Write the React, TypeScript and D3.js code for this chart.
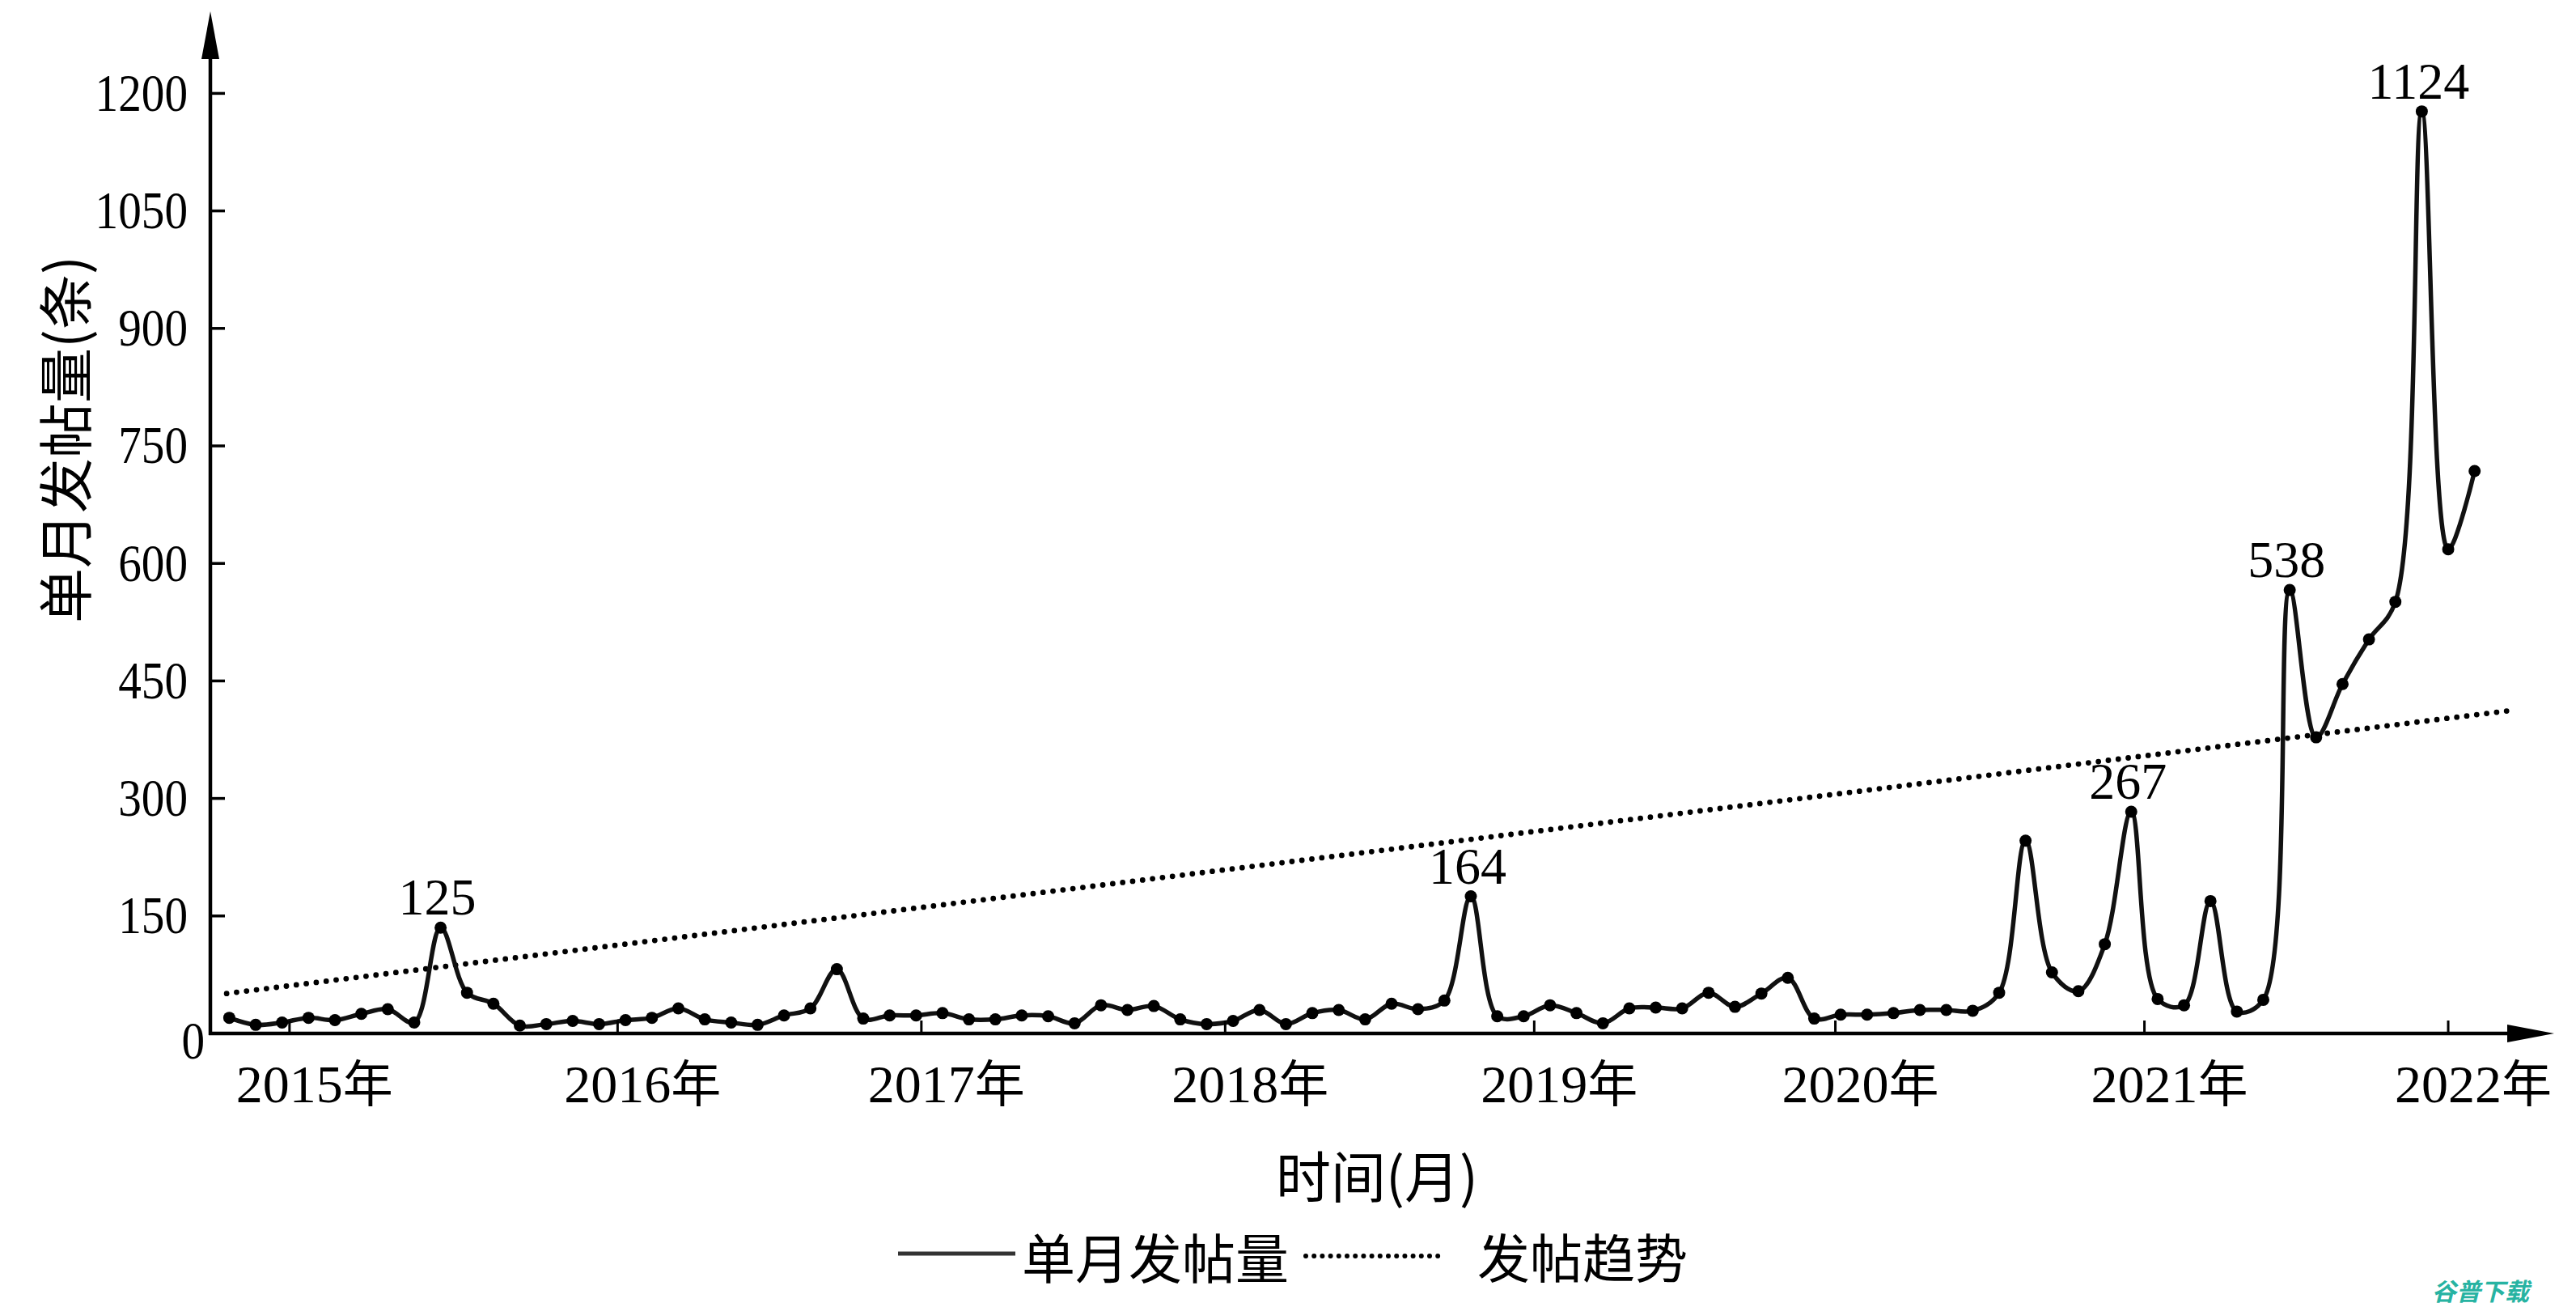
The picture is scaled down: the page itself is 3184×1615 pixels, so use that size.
import React from 'react';
import * as d3 from 'd3';

const W = 3184;
const H = 1615;

// monthly post counts (read against the y axis)
const monthlyPosts: number[] = [
  20, 11, 14, 20, 17, 25, 31, 14, 135, 52,
  38, 10, 12, 16, 12, 17, 20, 32, 18, 14,
  11, 23, 32, 82, 19, 23, 23, 26, 18, 18,
  23, 22, 13, 36, 30, 35, 18, 12, 16, 30,
  12, 26, 30, 18, 38, 31, 42, 175, 22, 22,
  36, 26, 13, 32, 33, 32, 52, 34, 51, 71,
  19, 24, 24, 26, 30, 30, 29, 52, 246, 78,
  54, 114, 283, 44, 36, 169, 28, 43, 566, 378,
  446, 503, 551, 1177, 618, 718,
];

const peakIndex: number[] = [8, 47, 72, 78, 83];
const peakLabels: string[] = ['125', '164', '267', '538', '1124'];

const yearLabels: string[] = ['2015', '2016', '2017', '2018', '2019', '2020', '2021', '2022'];
const yearTickAt: number[] = [2.28, 14.7, 26.2, 37.7, 49.4, 60.8, 72.5, 84.0];

const yTicks: number[] = [0, 150, 300, 450, 600, 750, 900, 1050, 1200];

const trendIdx: number[] = [-0.1, 86.3];
const trendVal: number[] = [51, 412];

const SERIF = "'Liberation Serif', 'Times New Roman', 'Noto Sans CJK SC', serif";
const CJK = "'Noto Sans CJK SC', 'Noto Sans CJK JP', sans-serif";

export default function App() {
  const x = d3.scaleLinear().domain([0, monthlyPosts.length - 1]).range([283.4, 3058.7]);
  const y = d3.scaleLinear().domain([0, 1200]).range([1277, 115.4]);

  const line = d3
    .line<number>()
    .x((_, i) => x(i))
    .y((d) => y(d))
    .curve(d3.curveCatmullRom.alpha(0.5));

  const trendLine = d3
    .line<number>()
    .x((_, i) => x(trendIdx[i]))
    .y((d) => y(d));

  const axisX = 260;
  const axisY = y(0);

  return (
    <svg
      width={W}
      height={H}
      viewBox={`0 0 ${W} ${H}`}
      style={{ position: 'absolute', left: 0, top: 0, background: '#fff', display: 'block' }}
    >
      <rect x={0} y={0} width={W} height={H} fill="#fff" />

      {/* trend (dotted) */}
      <path
        d={trendLine(trendVal) || ''}
        fill="none"
        stroke="#000"
        strokeWidth={6.8}
        strokeLinecap="round"
        strokeDasharray="0 12.4"
      />

      {/* monthly series */}
      <path d={line(monthlyPosts) || ''} fill="none" stroke="#111" strokeWidth={5.5} />
      {monthlyPosts.map((v, i) => (
        <circle key={i} cx={x(i)} cy={y(v)} r={7.5} fill="#000" />
      ))}

      {/* peak labels */}
      {peakIndex.map((pi, k) => (
        <text
          key={k}
          x={x(pi) - 4}
          y={y(monthlyPosts[pi]) - 16}
          textAnchor="middle"
          fontFamily={SERIF}
          fontSize={64}
          fill="#000"
        >
          {peakLabels[k]}
        </text>
      ))}

      {/* axes */}
      <line x1={axisX} y1={axisY + 2} x2={axisX} y2={60} stroke="#000" strokeWidth={4.5} />
      <polygon points={`${axisX},14 ${axisX - 11},73 ${axisX + 11},73`} fill="#000" />
      <line x1={axisX - 2} y1={axisY} x2={3105} y2={axisY} stroke="#000" strokeWidth={4.5} />
      <polygon points={`3157,${axisY} 3099,${axisY - 11} 3099,${axisY + 11}`} fill="#000" />

      {/* y ticks */}
      {yTicks.map((t) =>
        t === 0 ? null : (
          <line key={'yt' + t} x1={axisX} x2={axisX + 18} y1={y(t)} y2={y(t)} stroke="#000" strokeWidth={3.5} />
        )
      )}
      {yTicks.map((t) => (
        <text
          key={'yl' + t}
          transform={
            t === 0
              ? `translate(253, ${y(t) + 10}) scale(0.88,1)`
              : `translate(232, ${y(t)}) scale(0.88,1)`
          }
          textAnchor="end"
          dy="0.33em"
          fontFamily={SERIF}
          fontSize={65}
          fill="#000"
        >
          {t}
        </text>
      ))}

      {/* x ticks */}
      {yearTickAt.map((p, k) => (
        <line key={'xt' + k} x1={x(p)} x2={x(p)} y1={axisY} y2={axisY - 16} stroke="#000" strokeWidth={3} />
      ))}
      {yearTickAt.map((p, k) => (
        <g key={'xl' + k}>
          <text x={x(p)} y={1362} textAnchor="middle" fontFamily={SERIF} fontSize={66} fill="#000">
            {yearLabels[k]}
          </text>
          <text x={x(p) + 66} y={1362} textAnchor="start" fontFamily={CJK} fontSize={62} fill="#000">
            年
          </text>
        </g>
      ))}

      {/* axis titles */}
      <text
        x={1702}
        y={1450}
        textAnchor="middle"
        dominantBaseline="central"
        fontFamily={CJK}
        fontSize={68}
        fill="#000"
      >
        时间(月)
      </text>
      <text
        transform="translate(77, 543) rotate(-90)"
        textAnchor="middle"
        dominantBaseline="central"
        fontFamily={CJK}
        fontSize={68}
        fill="#000"
      >
        单月发帖量(条)
      </text>

      {/* legend */}
      <line x1={1110} x2={1255} y1={1549} y2={1549} stroke="#333" strokeWidth={5} />
      <text x={1263} y={1551} dominantBaseline="central" fontFamily={CJK} fontSize={66} fill="#000">
        单月发帖量
      </text>
      <line
        x1={1614}
        x2={1787}
        y1={1552}
        y2={1552}
        stroke="#000"
        strokeWidth={6}
        strokeLinecap="round"
        strokeDasharray="0 10.2"
      />
      <text x={1826} y={1551} dominantBaseline="central" fontFamily={CJK} fontSize={65} fill="#000">
        发帖趋势
      </text>

      {/* watermark */}
      <text
        x={3006}
        y={1594}
        dominantBaseline="central"
        fontFamily={CJK}
        fontWeight="bold"
        fontStyle="italic"
        fontSize={30}
        fill="#27b3a2"
      >
        谷普下载
      </text>
    </svg>
  );
}
